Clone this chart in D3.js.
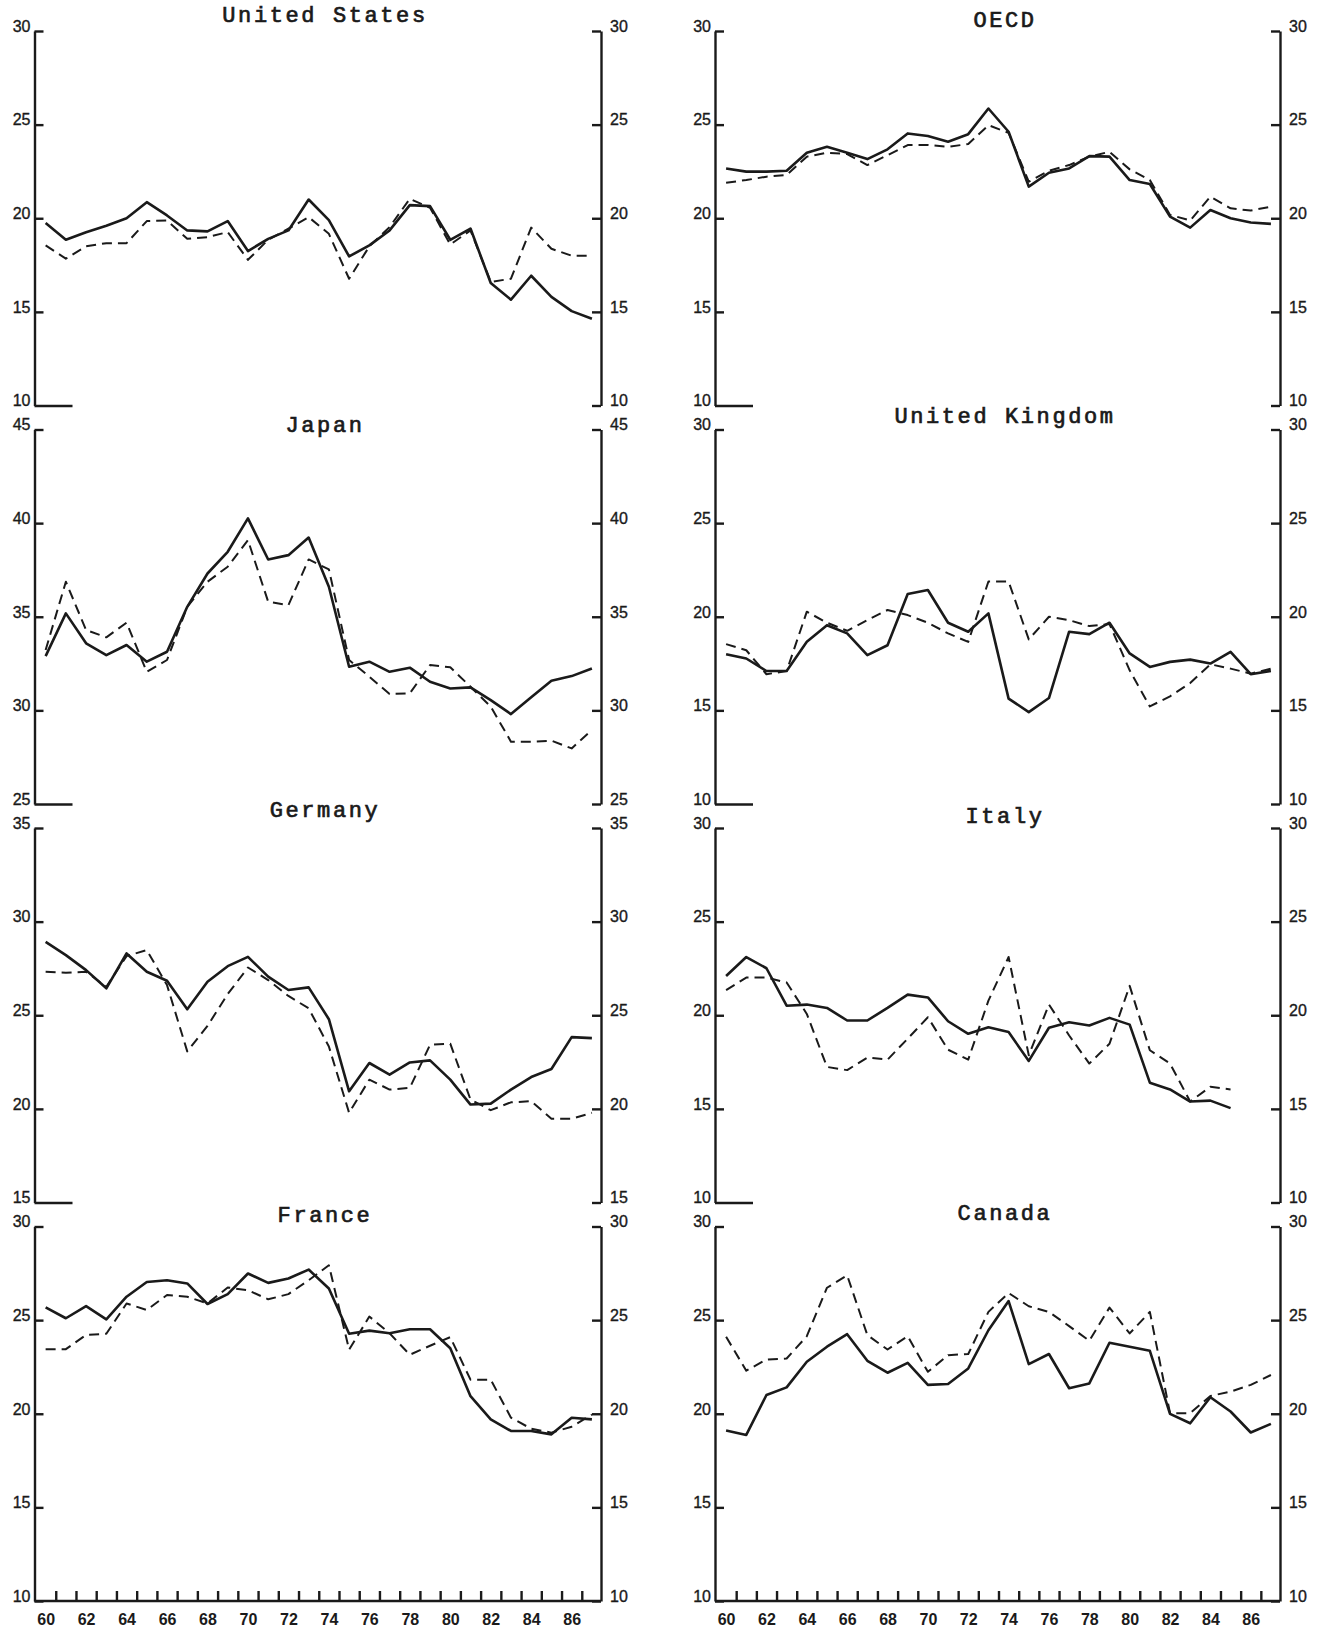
<!DOCTYPE html>
<html>
<head>
<meta charset="utf-8">
<script src="https://cdn.jsdelivr.net/npm/d3@7"></script>
<style>
  html, body { margin: 0; padding: 0; background: #fff; }
  svg { display: block; }
  .ylab text { font-family: "Liberation Sans", Arial, sans-serif; font-size: 16px; fill: #1a1a1a; stroke: #1a1a1a; stroke-width: 0.35px; }
  .xlab text { font-family: "Liberation Sans", Arial, sans-serif; font-size: 16px; font-weight: bold; fill: #1a1a1a; }
  .title { font-family: "Liberation Mono", "DejaVu Sans Mono", monospace; font-size: 22px; letter-spacing: 2.6px; fill: #1a1a1a; stroke: #1a1a1a; stroke-width: 0.7px; }
</style>
</head>
<body>
<svg id="chart" width="1324" height="1627"></svg>
<script>
// Years (19xx) shared by every panel
const years = [60, 61, 62, 63, 64, 65, 66, 67, 68, 69, 70, 71, 72, 73,
               74, 75, 76, 77, 78, 79, 80, 81, 82, 83, 84, 85, 86, 87];
const yearLabels = [60, 62, 64, 66, 68, 70, 72, 74, 76, 78, 80, 82, 84, 86];

// Panel titles
const titles = ["United States", "OECD", "Japan", "United Kingdom",
                "Germany", "Italy", "France", "Canada"];

// Vertical ranges and tick labels
const usTicks      = [10, 15, 20, 25, 30];
const oecdTicks    = [10, 15, 20, 25, 30];
const japanTicks   = [25, 30, 35, 40, 45];
const ukTicks      = [10, 15, 20, 25, 30];
const germanyTicks = [15, 20, 25, 30, 35];
const italyTicks   = [10, 15, 20, 25, 30];
const franceTicks  = [10, 15, 20, 25, 30];
const canadaTicks  = [10, 15, 20, 25, 30];

// Solid series (A) and dashed series (B), per cent
const usA = [19.74, 18.85, 19.25, 19.6, 20.0, 20.86, 20.15, 19.35, 19.3, 19.85, 18.25, 18.9, 19.35, 21.0,
             19.9, 17.96, 18.55, 19.35, 20.7, 20.65, 18.85, 19.45, 16.54, 15.65, 16.93, 15.8, 15.04, 14.63];
const usB = [18.55, 17.84, 18.5, 18.67, 18.67, 19.85, 19.88, 18.9, 18.99, 19.26, 17.78, 18.85, 19.44, 20.06,
             19.17, 16.77, 18.5, 19.53, 21.04, 20.56, 18.6, 19.35, 16.6, 16.77, 19.5, 18.37, 18.0, 18.0];

const oecdA = [22.66, 22.49, 22.49, 22.54, 23.5, 23.82, 23.5, 23.16, 23.68, 24.53, 24.39, 24.09, 24.49, 25.86,
               24.62, 21.69, 22.43, 22.66, 23.32, 23.29, 22.04, 21.83, 20.09, 19.5, 20.44, 20.0, 19.77, 19.7];
const oecdB = [21.9, 22.04, 22.22, 22.31, 23.29, 23.5, 23.43, 22.84, 23.37, 23.91, 23.91, 23.82, 23.96, 24.97,
               24.56, 21.95, 22.54, 22.84, 23.29, 23.55, 22.61, 22.04, 20.18, 19.88, 21.15, 20.53, 20.41, 20.62];

const japanA = [32.9, 35.18, 33.58, 32.95, 33.49, 32.6, 33.13, 35.53, 37.31, 38.47, 40.25, 38.06, 38.29, 39.23,
                36.6, 32.33, 32.6, 32.06, 32.28, 31.53, 31.17, 31.23, 30.55, 29.8, 30.7, 31.58, 31.83, 32.24];
const japanB = [33.22, 36.87, 34.29, 33.9, 34.68, 32.06, 32.69, 35.53, 36.87, 37.67, 39.09, 35.8, 35.62, 38.06,
                37.53, 32.69, 31.8, 30.87, 30.91, 32.42, 32.3, 31.26, 30.2, 28.33, 28.33, 28.38, 27.97, 28.95];

const ukA = [18.0, 17.77, 17.1, 17.1, 18.66, 19.55, 19.11, 17.95, 18.48, 21.21, 21.43, 19.68, 19.2, 20.18,
             15.63, 14.91, 15.66, 19.2, 19.07, 19.68, 18.04, 17.32, 17.59, 17.71, 17.5, 18.13, 16.93, 17.11];
const ukB = [18.54, 18.21, 16.93, 17.1, 20.27, 19.68, 19.25, 19.82, 20.36, 20.09, 19.68, 19.11, 18.66, 21.88,
             21.88, 18.79, 20.0, 19.82, 19.5, 19.61, 17.14, 15.21, 15.75, 16.46, 17.46, 17.23, 16.96, 17.23];

const germanyA = [28.92, 28.21, 27.41, 26.44, 28.3, 27.32, 26.84, 25.32, 26.79, 27.62, 28.12, 27.06, 26.35, 26.49,
                  24.79, 20.94, 22.45, 21.83, 22.48, 22.59, 21.56, 20.23, 20.28, 21.03, 21.7, 22.13, 23.83, 23.78];
const germanyB = [27.32, 27.27, 27.32, 26.52, 28.16, 28.48, 26.61, 23.07, 24.43, 26.13, 27.55, 26.88, 26.03, 25.37,
                  23.33, 19.79, 21.56, 21.03, 21.12, 23.42, 23.48, 20.5, 19.93, 20.35, 20.41, 19.47, 19.47, 19.79];

// Italy runs 1960-1985 only
const italyA = [22.1, 23.11, 22.51, 20.51, 20.57, 20.39, 19.72, 19.72, 20.39, 21.1, 20.95, 19.68, 19.01, 19.36,
                19.1, 17.56, 19.33, 19.63, 19.45, 19.86, 19.5, 16.4, 16.04, 15.39, 15.44, 15.04];
const italyB = [21.34, 22.01, 22.01, 21.75, 20.07, 17.24, 17.07, 17.74, 17.63, 18.75, 19.89, 18.16, 17.63, 20.78,
                23.11, 17.86, 20.57, 18.92, 17.42, 18.48, 21.57, 18.13, 17.42, 15.39, 16.18, 16.04];

const franceA = [25.68, 25.1, 25.75, 25.04, 26.25, 27.04, 27.13, 26.96, 25.86, 26.39, 27.49, 26.99, 27.22, 27.7,
                 26.69, 24.27, 24.44, 24.3, 24.51, 24.51, 23.5, 20.94, 19.7, 19.08, 19.08, 18.9, 19.79, 19.7];
const franceB = [23.45, 23.45, 24.21, 24.27, 25.89, 25.54, 26.34, 26.25, 25.89, 26.74, 26.6, 26.11, 26.39, 27.13,
                 27.93, 23.42, 25.19, 24.3, 23.15, 23.63, 24.09, 21.82, 21.82, 19.79, 19.2, 18.99, 19.31, 19.96];

const canadaA = [19.1, 18.87, 21.0, 21.41, 22.78, 23.58, 24.25, 22.83, 22.19, 22.72, 21.54, 21.59, 22.42, 24.46,
                 26.02, 22.65, 23.19, 21.36, 21.62, 23.79, 23.58, 23.36, 19.99, 19.49, 20.88, 20.12, 19.0, 19.46];
const canadaB = [24.11, 22.3, 22.9, 22.95, 24.14, 26.73, 27.39, 24.2, 23.43, 24.14, 22.24, 23.13, 23.19, 25.44,
                 26.45, 25.74, 25.44, 24.68, 23.9, 25.67, 24.29, 25.44, 20.03, 20.03, 20.95, 21.18, 21.54, 22.07];

// ---- panel table (reading order: row by row, left then right) ----
const panelTicks  = [usTicks, oecdTicks, japanTicks, ukTicks, germanyTicks, italyTicks, franceTicks, canadaTicks];
const panelSolid  = [usA, oecdA, japanA, ukA, germanyA, italyA, franceA, canadaA];
const panelDashed = [usB, oecdB, japanB, ukB, germanyB, italyB, franceB, canadaB];

// ---- layout ----
const ink = "#1a1a1a";
const columns = [{ left: 34.5, right: 601, titleX: 325 }, { left: 715, right: 1280, titleX: 1005 }];
const rowTop = r => 31 + r * 398.5;
const panelH = 374.5;
const nRows = 4;
// baseline of each title, measured up from the panel top
const titleRise = [9, 4, -2, 7, 11, 5, 5, 7];

const svg = d3.select("#chart");

titles.forEach((title, i) => {
  const row = Math.floor(i / 2), col = i % 2;
  const c = columns[col];
  const top = rowTop(row), bottom = top + panelH;
  const ticks = panelTicks[i];

  const x = d3.scaleLinear().domain([59.45, 87.45]).range([c.left, c.right]);
  const y = d3.scaleLinear().domain(d3.extent(ticks)).range([bottom, top]);

  const g = svg.append("g");

  // left axis, ticks pointing inward
  const leftAxis = g.append("g").attr("class", "ylab")
    .attr("transform", `translate(${c.left},0)`)
    .call(d3.axisLeft(y).tickValues(ticks).tickSize(-9).tickPadding(4).tickSizeOuter(0));
  // right axis, ticks pointing inward
  const rightAxis = g.append("g").attr("class", "ylab")
    .attr("transform", `translate(${c.right},0)`)
    .call(d3.axisRight(y).tickValues(ticks).tickSize(-9).tickPadding(9).tickSizeOuter(0));

  [leftAxis, rightAxis].forEach(ax => {
    ax.select(".domain").attr("stroke", ink).attr("stroke-width", 2.4);
    ax.selectAll(".tick line").attr("stroke", ink).attr("stroke-width", 2.4);
    ax.selectAll(".tick text").attr("dy", "0.02em").attr("fill", ink);
  });

  const lastRow = row === nRows - 1;
  // longer stub at the foot of the left axis
  if (!lastRow) {
    leftAxis.selectAll(".tick").filter(d => d === ticks[0]).select("line").attr("x2", 38);
  }

  if (lastRow) {
    // year baseline with a tick between each year
    const tickPos = d3.range(years[0] + 0.5, years[years.length - 1], 1);
    const base = g.append("g")
      .attr("transform", `translate(0,${bottom})`)
      .call(d3.axisBottom(x).tickValues(tickPos).tickSize(-10).tickSizeOuter(0).tickFormat(""));
    base.select(".domain").attr("stroke", ink).attr("stroke-width", 2.6)
      .attr("d", `M${c.left},0H${c.right}`);
    base.selectAll(".tick line").attr("stroke", ink).attr("stroke-width", 2.4);

    const labs = g.append("g").attr("class", "xlab")
      .attr("transform", `translate(0,${bottom})`)
      .call(d3.axisBottom(x).tickValues(yearLabels).tickSize(0).tickPadding(12.5).tickFormat(d3.format("d")));
    labs.select(".domain").remove();
  }

  // title
  g.append("text").attr("class", "title")
    .attr("x", c.titleX).attr("y", top - titleRise[i])
    .attr("text-anchor", "middle")
    .text(title);

  const line = d3.line()
    .x((d, k) => x(years[k]))
    .y(d => y(d));

  g.append("path").datum(panelDashed[i])
    .attr("d", line).attr("fill", "none")
    .attr("stroke", ink).attr("stroke-width", 2.0)
    .attr("stroke-dasharray", "10,6").attr("stroke-linejoin", "round");

  g.append("path").datum(panelSolid[i])
    .attr("d", line).attr("fill", "none")
    .attr("stroke", ink).attr("stroke-width", 2.6)
    .attr("stroke-linejoin", "round");
});
</script>
</body>
</html>
